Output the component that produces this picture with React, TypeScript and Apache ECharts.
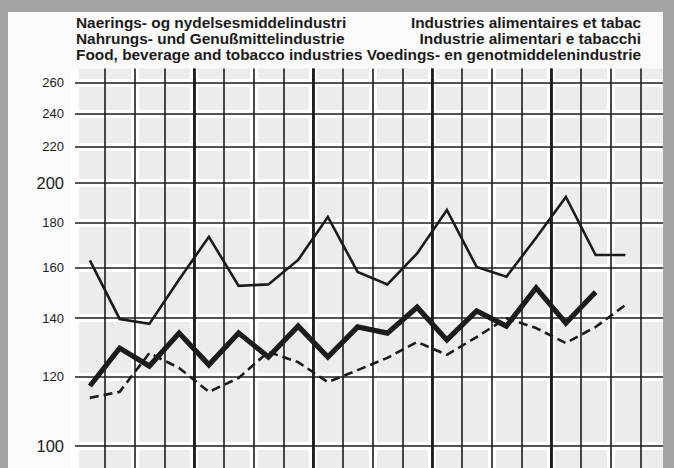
import React, { useEffect, useRef } from "react";
import * as echarts from "echarts";

const categories = [
  "Y1 Q1", "Y1 Q2", "Y1 Q3", "Y1 Q4",
  "Y2 Q1", "Y2 Q2", "Y2 Q3", "Y2 Q4",
  "Y3 Q1", "Y3 Q2", "Y3 Q3", "Y3 Q4",
  "Y4 Q1", "Y4 Q2", "Y4 Q3", "Y4 Q4",
  "Y5 Q1", "Y5 Q2", "Y5 Q3", "Y5 Q4",
];

const thinSeries = [163, 139.7, 137.9, 155, 173.4, 152.4, 153, 163.2, 182.7, 158.1, 153, 166, 186.1, 160.2, 156.1, 173, 192.6, 165.3, 165.3];
const thickSeries = [117.1, 129.4, 123.4, 134.6, 123.8, 134.6, 126.4, 137.1, 126.4, 136.8, 134.6, 144.1, 132.2, 142.7, 137.1, 151.6, 138.2, 150];
const dashedSeries = [113.5, 115.3, 127.7, 122.8, 115.3, 119.6, 128.1, 124.7, 118.3, 122.1, 126.1, 131.5, 127.1, 133.2, 140, 136.4, 131.1, 136.8, 144.9];

const yTicks = [100, 120, 140, 160, 180, 200, 220, 240, 260];
const bigTicks = [100, 200];

const titleLeft = [
  "Naerings- og nydelsesmiddelindustri",
  "Nahrungs- und Genußmittelindustrie",
  "Food, beverage and tobacco industries",
];
const titleRight = [
  "Industries alimentaires et tabac",
  "Industrie alimentari e tabacchi",
  "Voedings- en genotmiddelenindustrie",
];

const FONT = "'Liberation Sans', Arial, sans-serif";
const INK = "#1c1c1c";

export default function App() {
  const ref = useRef<HTMLDivElement>(null);

  useEffect(() => {
    if (!ref.current) return;
    const chart = echarts.init(ref.current, null, { renderer: "svg" });

    const Y_MIN = 94.37;
    const Y_MAX = 270;

    const baseX = (extra: any) => ({
      type: "category",
      data: categories,
      boundaryGap: true,
      gridIndex: 0,
      axisLine: { show: false },
      axisTick: { show: false },
      axisLabel: { show: false },
      ...extra,
    });
    const baseY = (extra: any) => ({
      type: "log",
      logBase: 10,
      min: Y_MIN,
      max: Y_MAX,
      gridIndex: 0,
      position: "left",
      axisLine: { show: false },
      axisTick: { show: false, customValues: yTicks },
      ...extra,
    });

    const titleEls: any[] = [];
    titleLeft.forEach((t, i) => {
      titleEls.push({
        type: "text",
        left: 76,
        top: 15 + i * 16,
        style: { text: t, font: `bold 15.4px ${FONT}`, fill: INK },
      });
    });
    titleRight.forEach((t, i) => {
      titleEls.push({
        type: "text",
        right: 674 - 641,
        top: 15 + i * 16,
        style: { text: t, font: `bold 15.4px ${FONT}`, fill: INK, textAlign: "right" },
      });
    });

    chart.setOption({
      animation: false,
      backgroundColor: "transparent",
      grid: {
        left: 75,
        right: 4,
        top: 68.6,
        bottom: 0,
        show: true,
        backgroundColor: "#ececec",
        borderWidth: 0,
        z: 0,
      },
      graphic: titleEls,
      xAxis: [
        baseX({
          z: 1,
          splitLine: { show: true, lineStyle: { color: "#ffffff", width: 8 } },
        }),
        baseX({
          z: 2,
          splitLine: {
            show: true,
            interval: (i: number) => i > 0,
            lineStyle: { color: INK, width: 1.6 },
          },
        }),
        baseX({
          z: 2,
          splitLine: {
            show: true,
            interval: (i: number) => i > 0 && i % 4 === 0,
            lineStyle: { color: INK, width: 2.8 },
          },
        }),
      ],
      yAxis: [
        baseY({
          z: 1,
          axisLabel: { show: false, customValues: yTicks },
          splitLine: { show: true, lineStyle: { color: "#ffffff", width: 8 } },
        }),
        baseY({
          z: 2,
          axisLabel: {
            show: true,
            customValues: yTicks,
            margin: 11,
            formatter: (v: number) =>
              bigTicks.indexOf(Math.round(v)) >= 0 ? `{b|${Math.round(v)}}` : `{a|${Math.round(v)}}`,
            rich: {
              a: { fontFamily: FONT, fontSize: 13, color: INK },
              b: { fontFamily: FONT, fontSize: 16.5, color: INK },
            },
          },
          splitLine: { show: true, lineStyle: { color: INK, width: 1.6 } },
        }),
      ],
      series: [
        {
          type: "line",
          name: "thin",
          xAxisIndex: 1,
          yAxisIndex: 1,
          data: thinSeries,
          symbol: "none",
          z: 5,
          lineStyle: { color: INK, width: 2.6, join: "miter" },
        },
        {
          type: "line",
          name: "dashed",
          xAxisIndex: 1,
          yAxisIndex: 1,
          data: dashedSeries,
          symbol: "none",
          z: 5,
          lineStyle: { color: INK, width: 2.6, type: [9, 5] },
        },
        {
          type: "line",
          name: "thick",
          xAxisIndex: 1,
          yAxisIndex: 1,
          data: thickSeries,
          symbol: "none",
          z: 6,
          lineStyle: { color: INK, width: 5.2, join: "miter" },
        },
      ],
    });

    return () => chart.dispose();
  }, []);

  return (
    <div style={{ position: "fixed", left: 0, top: 0, width: 674, height: 468, background: "#a4a4a4", overflow: "hidden" }}>
      <div style={{ position: "absolute", left: 8, top: 12, width: 655, height: 456, background: "#fafafa" }} />
      <div ref={ref} style={{ position: "absolute", left: 0, top: 0, width: 674, height: 468 }} />
      <div style={{ position: "absolute", left: 663, top: 0, width: 11, height: 468, background: "#a4a4a4" }} />
    </div>
  );
}
